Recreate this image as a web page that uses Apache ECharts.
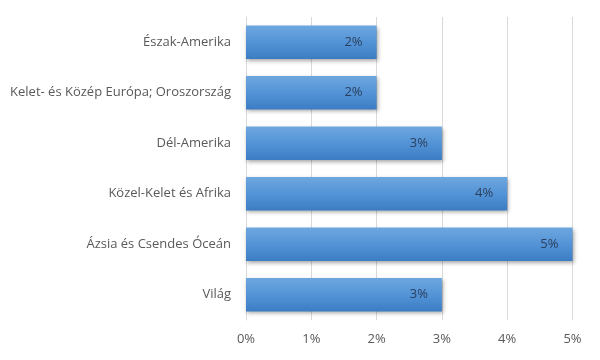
<!DOCTYPE html>
<html>
<head>
<meta charset="utf-8">
<script src="https://cdn.jsdelivr.net/npm/echarts@6/dist/echarts.min.js"></script>
<style>html,body{margin:0;padding:0;background:#fff}#c{width:600px;height:360px}</style>
</head>
<body>
<div id="c"></div>
<script>
const categories = ["Észak-Amerika", "Kelet- és Közép Európa; Oroszország", "Dél-Amerika", "Közel-Kelet és Afrika", "Ázsia és Csendes Óceán", "Világ"];
const values = [2, 2, 3, 4, 5, 3];
const xTicks = [0, 1, 2, 3, 4, 5];

const chart = echarts.init(document.getElementById('c'));
chart.setOption({
  animation: false,
  grid: { left: 246, right: 27.5, top: 17, bottom: 40, containLabel: false },
  xAxis: {
    type: 'value', min: xTicks[0], max: xTicks[xTicks.length - 1], interval: 1,
    axisLine: { show: false }, axisTick: { show: false },
    splitLine: { show: true, lineStyle: { color: '#d9d9d9', width: 1 } },
    axisLabel: { formatter: v => v + '%', color: '#595959', fontFamily: 'Open Sans', fontSize: 13, margin: 13 }
  },
  yAxis: {
    type: 'category', data: categories, inverse: true,
    axisLine: { show: true, lineStyle: { color: '#d9d9d9' } }, axisTick: { show: false },
    axisLabel: { color: '#595959', fontFamily: 'Open Sans', fontSize: 13, margin: 15 }
  },
  series: [{
    type: 'bar', data: values, barCategoryGap: '34%',
    itemStyle: {
      color: new echarts.graphic.LinearGradient(0, 0, 0, 1, [
        { offset: 0, color: '#6ea7df' },
        { offset: 0.5, color: '#5393d6' },
        { offset: 1, color: '#3c7cc3' }
      ]),
      shadowColor: 'rgba(0,0,0,0.35)', shadowBlur: 4, shadowOffsetX: 1, shadowOffsetY: 2
    },
    label: {
      show: true, position: 'insideRight', distance: 14, formatter: p => p.value + '%',
      color: '#2b3f5c', fontFamily: 'Open Sans', fontSize: 13
    }
  }]
});
</script>
</body>
</html>
